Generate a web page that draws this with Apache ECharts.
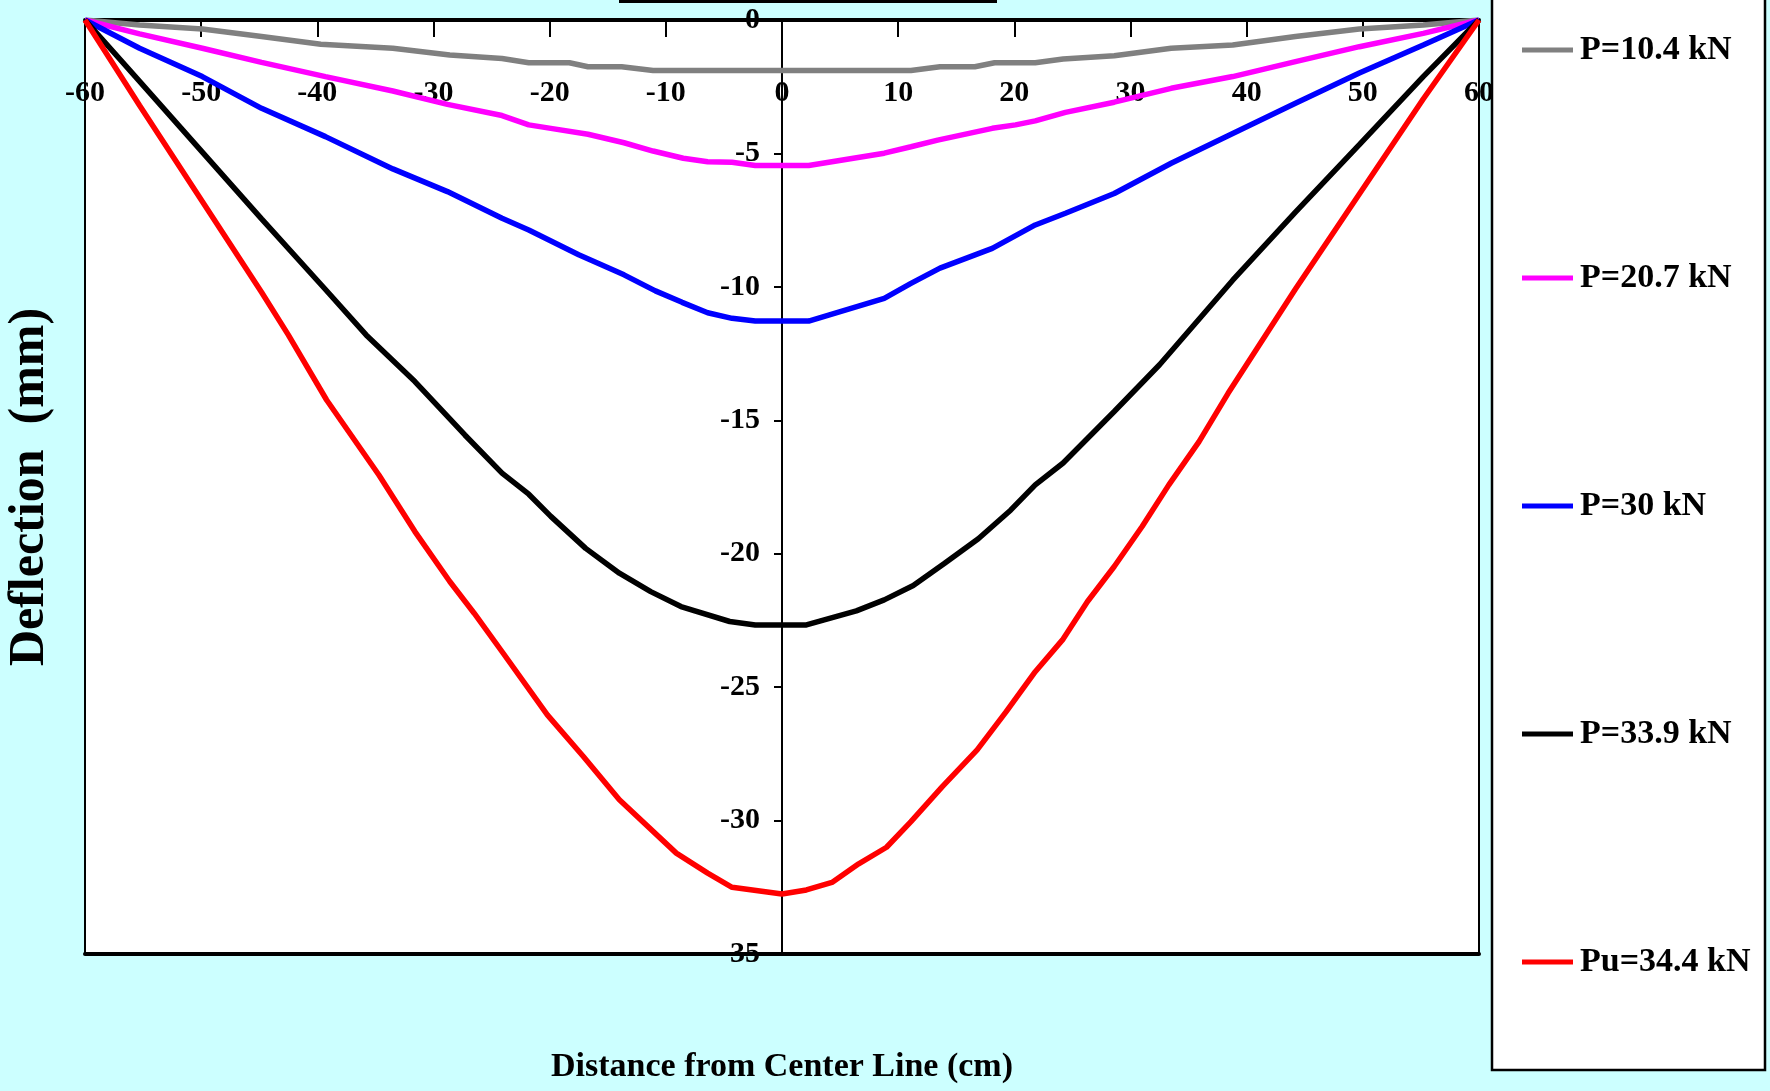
<!DOCTYPE html>
<html>
<head>
<meta charset="utf-8">
<title>Deflection</title>
<script src="https://cdn.jsdelivr.net/npm/echarts/dist/echarts.min.js"></script>
<style>
    html, body { margin: 0; padding: 0; background: #ccffff; }
    #main { width: 1770px; height: 1091px; }
</style>
</head>
<body>
<div id="main"></div>
<script>
// 挠度数据 [距中心线 cm, 挠度 mm]
var names = ['P=10.4 kN', 'P=20.7 kN', 'P=30 kN', 'P=33.9 kN', 'Pu=34.4 kN'];
var colors = ['#808080', '#ff00ff', '#0000ff', '#000000', '#ff0000'];

var p104 = [[-60, 0], [-55.3, -0.19], [-49.9, -0.34], [-44.8, -0.62], [-39.7, -0.91], [-33.5, -1.06], [-28.6, -1.31],
    [-24.1, -1.44], [-21.8, -1.6], [-18.3, -1.6], [-16.7, -1.75], [-13.8, -1.75], [-11.1, -1.89], [0, -1.89],
    [11.1, -1.89], [13.6, -1.75], [16.6, -1.75], [18.3, -1.6], [21.8, -1.6], [24.2, -1.46], [28.6, -1.34],
    [33.5, -1.06], [38.8, -0.94], [44.2, -0.62], [49.7, -0.34], [55.2, -0.19], [60, 0]];

var p207 = [[-60, 0], [-55.3, -0.52], [-49.9, -1.06], [-44.8, -1.59], [-39.3, -2.12], [-33.5, -2.66], [-28.8, -3.16],
    [-24.1, -3.58], [-21.8, -3.93], [-19.9, -4.06], [-16.7, -4.28], [-13.6, -4.6], [-11.1, -4.91], [-8.5, -5.18],
    [-6.4, -5.31], [-4.3, -5.33], [-2.3, -5.45], [2.3, -5.45], [8.8, -4.99], [11.1, -4.75], [13.4, -4.5],
    [18.1, -4.06], [20.1, -3.93], [21.8, -3.78], [24.4, -3.46], [28.6, -3.08], [33.5, -2.56], [38.8, -2.12],
    [44.2, -1.56], [49.7, -1.0], [55.2, -0.5], [60, 0]];

var p30 = [[-60, 0], [-55.3, -1.06], [-49.9, -2.12], [-44.8, -3.31], [-39.3, -4.37], [-33.5, -5.58], [-28.8, -6.43],
    [-24.1, -7.43], [-21.8, -7.87], [-17.5, -8.8], [-13.6, -9.55], [-10.9, -10.15], [-8.6, -10.58], [-6.4, -10.97],
    [-4.3, -11.18], [-2.3, -11.28], [2.3, -11.28], [8.8, -10.43], [11.1, -9.87], [13.6, -9.3], [18.1, -8.56],
    [21.8, -7.68], [24.4, -7.24], [28.6, -6.5], [33.5, -5.37], [38.8, -4.25], [44.2, -3.12], [49.7, -1.99],
    [55.2, -0.94], [60, 0]];

var p339 = [[-60, 0], [-55.3, -2.3], [-49.9, -4.95], [-44.8, -7.45], [-39.3, -10.1], [-35.8, -11.8], [-31.6, -13.55],
    [-27.3, -15.55], [-24.1, -16.98], [-21.8, -17.77], [-19.9, -18.6], [-16.9, -19.8], [-14.0, -20.73],
    [-11.3, -21.42], [-8.7, -21.98], [-4.5, -22.54], [-2.3, -22.67], [2.1, -22.67], [6.4, -22.14], [8.8, -21.73],
    [11.3, -21.19], [14.0, -20.36], [16.9, -19.44], [19.7, -18.36], [21.8, -17.42], [24.2, -16.6], [28.6, -14.67],
    [32.5, -12.92], [38.8, -9.75], [44.2, -7.2], [49.7, -4.67], [55.2, -2.12], [60, 0]];

var pu344 = [[-60, 0], [-55.3, -3.2], [-49.9, -6.8], [-44.8, -10.2], [-42.5, -11.8], [-39.2, -14.24], [-34.7, -17.05],
    [-31.6, -19.17], [-28.6, -21.04], [-26.5, -22.23], [-24.0, -23.73], [-20.2, -26.04], [-17.1, -27.6],
    [-14.0, -29.22], [-9.1, -31.22], [-6.4, -31.97], [-4.3, -32.5], [0, -32.75], [2.1, -32.6], [4.3, -32.32],
    [6.6, -31.62], [9.0, -31.0], [11.1, -30.04], [13.8, -28.73], [16.8, -27.35], [19.3, -25.92], [21.8, -24.42],
    [24.2, -23.2], [26.3, -21.79], [28.6, -20.48], [31.0, -18.98], [33.3, -17.42], [35.9, -15.8], [38.4, -13.99],
    [44.2, -10.08], [49.7, -6.52], [55.2, -2.96], [60, 0]];

var allData = [p104, p207, p30, p339, pu344];

var font = "'Liberation Serif', 'Times New Roman', serif";

var seriesList = [];
for (var i = 0; i < allData.length; i++) {
    seriesList.push({
        name: names[i],
        type: 'line',
        data: allData[i],
        symbol: 'none',
        color: colors[i],
        lineStyle: { width: 5.5, color: colors[i] },
        xAxisIndex: 0,
        yAxisIndex: 0
    });
}

// 绘图区: 左 85, 宽 1394, 中心线 x=0 在 782
var option = {
    animation: false,
    backgroundColor: '#ccffff',
    grid: {
        left: 85,
        right: 291,
        top: 20,
        bottom: 137,
        outerBoundsMode: 'none',
        show: true,
        backgroundColor: '#ffffff',
        borderColor: '#000000',
        borderWidth: 2
    },
    legend: {
        orient: 'vertical',
        left: 1517,
        top: 25,
        icon: 'rect',
        itemWidth: 51,
        itemHeight: 5,
        itemGap: 188,
        data: names,
        textStyle: { fontFamily: font, fontWeight: 'bold', fontSize: 34, color: '#000', lineHeight: 40, padding: [0, 0, 0, 2] }
    },
    graphic: [
        {
            type: 'rect', z: 0,
            shape: { x: 1492, y: -5, width: 273, height: 1075 },
            style: { fill: '#ffffff', stroke: '#000000', lineWidth: 2.5 }
        },
        {
            type: 'line', z: 0,
            shape: { x1: 619, y1: 1.5, x2: 997, y2: 1.5 },
            style: { stroke: '#000000', lineWidth: 3 }
        }
    ],
    xAxis: [
        {
            type: 'value',
            position: 'top',
            min: -60,
            max: 60,
            interval: 10,
            axisLine: { onZero: false, lineStyle: { color: '#000', width: 4 } },
            axisTick: { inside: true, length: 17, lineStyle: { color: '#000', width: 2 } },
            axisLabel: { inside: true, margin: 58, fontFamily: font, fontWeight: 'bold', fontSize: 30, color: '#000' },
            splitLine: { show: false }
        },
        {
            type: 'value',
            position: 'bottom',
            min: -60,
            max: 60,
            name: 'Distance from Center Line (cm)',
            nameLocation: 'middle',
            nameGap: 96,
            nameTextStyle: { fontFamily: font, fontWeight: 'bold', fontSize: 34, color: '#000' },
            axisLine: { onZero: false, lineStyle: { color: '#000', width: 4 } },
            axisTick: { show: false },
            axisLabel: { show: false },
            splitLine: { show: false }
        }
    ],
    yAxis: [
        {
            type: 'value',
            position: 'left',
            offset: -697,
            min: -35,
            max: 0,
            interval: 5,
            axisLine: { onZero: false, lineStyle: { color: '#000', width: 2 } },
            axisTick: { length: 8, lineStyle: { color: '#000', width: 2 } },
            axisLabel: { margin: 22, fontFamily: font, fontWeight: 'bold', fontSize: 30, color: '#000' },
            splitLine: { show: false }
        },
        {
            type: 'value',
            position: 'left',
            min: -35,
            max: 0,
            name: 'Deflection  (mm)',
            nameLocation: 'middle',
            nameRotate: 90,
            nameGap: 30,
            nameTextStyle: { fontFamily: font, fontWeight: 'bold', fontSize: 50, color: '#000' },
            axisLine: { show: false, onZero: false },
            axisTick: { show: false },
            axisLabel: { show: false },
            splitLine: { show: false }
        }
    ],
    series: seriesList
};

var myChart = echarts.init(document.getElementById('main'));
myChart.setOption(option);
</script>
</body>
</html>
